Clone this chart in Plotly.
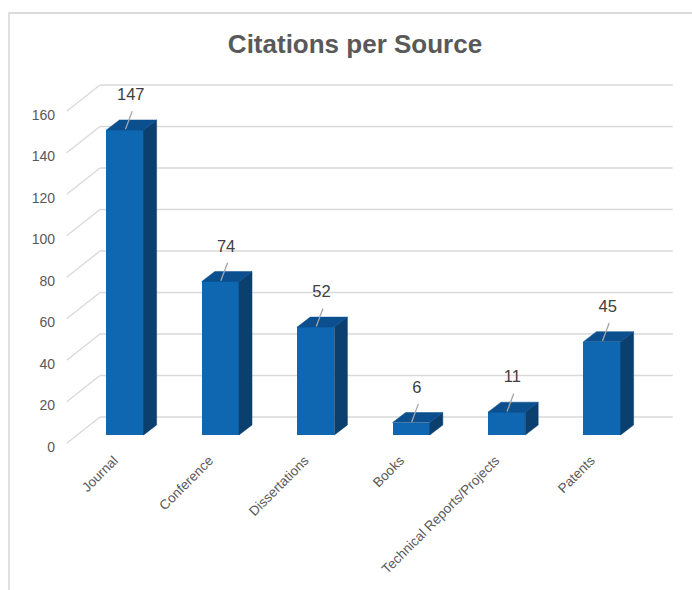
import plotly.graph_objects as go

# ---------------- data ----------------
categories = ["Journal", "Conference", "Dissertations", "Books",
              "Technical Reports/Projects", "Patents"]
citations = [147, 74, 52, 6, 11, 45]
y_ticks = [0, 20, 40, 60, 80, 100, 120, 140, 160]
title_text = "Citations per Source"

# ---------------- geometry (axis units) ----------------
W, H = 692, 590
PX_X = 95.4          # pixels per category step
PX_Y = 2.075         # pixels per value unit
X0_PX = 125          # pixel of first category centre
Y0_PX = 435          # pixel of value 0 on bar front plane
BAR_W = 0.39
DEPTH_DX = 13 / PX_X
DEPTH_DY = 10 / PX_Y
BACK_DY = 18 / PX_Y
FRONT_DY = 8.3 / PX_Y
LABEL_DY = 12.0 / PX_Y
BACK_X0 = (100 - X0_PX) / PX_X
BACK_X1 = (672.7 - X0_PX) / PX_X
FRONT_X = (66.7 - X0_PX) / PX_X

PLOT_TOP_PX, PLOT_BOT_PX = 70, 448
x_range = [-X0_PX / PX_X, (W - X0_PX) / PX_X]
y_range = [-(PLOT_BOT_PX - Y0_PX) / PX_Y, (Y0_PX - PLOT_TOP_PX) / PX_Y]

FRONT_COL = "#0F67B1"
TOP_COL = "#0B4F8E"
SIDE_COL = "#0B3F6E"
GRID_COL = "#D9D9D9"
TXT_COL = "#595959"
FONT = "Liberation Sans, Arial, sans-serif"

idx = list(range(len(categories)))

# side and top faces
side_x, side_y, top_x, top_y = [], [], [], []
for i, v in zip(idx, citations):
    xl, xr = i - BAR_W / 2, i + BAR_W / 2
    side_x += [xr, xr + DEPTH_DX, xr + DEPTH_DX, xr, xr, None]
    side_y += [0, DEPTH_DY, v + DEPTH_DY, v, 0, None]
    top_x += [xl, xr, xr + DEPTH_DX, xl + DEPTH_DX, xl, None]
    top_y += [v, v, v + DEPTH_DY, v + DEPTH_DY, v, None]

# leader lines and labels
lead_x, lead_y = [], []
for i, v in zip(idx, citations):
    lead_x += [i + 0.005, i + 0.075, None]
    lead_y += [v + 0.3, v + 9.0, None]

fig = go.Figure()
fig.add_trace(go.Bar(x=idx, y=citations, width=BAR_W,
                     marker=dict(color=FRONT_COL, line=dict(width=0)),
                     showlegend=False, hoverinfo="skip"))
fig.add_trace(go.Scatter(x=side_x, y=side_y, mode="lines", fill="toself",
                         fillcolor=SIDE_COL, line=dict(color=SIDE_COL, width=0.5),
                         showlegend=False, hoverinfo="skip"))
fig.add_trace(go.Scatter(x=top_x, y=top_y, mode="lines", fill="toself",
                         fillcolor=TOP_COL, line=dict(color=TOP_COL, width=0.5),
                         showlegend=False, hoverinfo="skip"))
fig.add_trace(go.Scatter(x=lead_x, y=lead_y, mode="lines",
                         line=dict(color="#A6A6A6", width=1.3),
                         showlegend=False, hoverinfo="skip"))
fig.add_trace(go.Scatter(x=[i + 0.06 for i in idx], y=[v + 16.3 for v in citations],
                         mode="text", text=[str(v) for v in citations],
                         textposition="middle center",
                         textfont=dict(size=16.5, color="#404040", family=FONT),
                         showlegend=False, hoverinfo="skip"))
# invisible trace carrying the tick-label axis
fig.add_trace(go.Scatter(x=[0], y=[0], yaxis="y2", mode="markers",
                         marker=dict(opacity=0), showlegend=False, hoverinfo="skip"))

# back-wall gridlines and diagonal connectors
for v in y_ticks:
    fig.add_shape(type="line", xref="x", yref="y", layer="below",
                  x0=BACK_X0, x1=BACK_X1, y0=v + BACK_DY, y1=v + BACK_DY,
                  line=dict(color=GRID_COL, width=1.3))
    fig.add_shape(type="line", xref="x", yref="y", layer="below",
                  x0=FRONT_X, x1=BACK_X0, y0=v - FRONT_DY, y1=v + BACK_DY,
                  line=dict(color=GRID_COL, width=1.3))

# chart border
fig.add_shape(type="rect", xref="paper", yref="paper",
              x0=9 / W, x1=1.05, y0=-0.05, y1=1 - 13 / H,
              line=dict(color="#D0D0D0", width=1.3), layer="below")

fig.update_layout(
    width=W, height=H,
    margin=dict(l=0, r=0, t=0, b=0, autoexpand=False),
    paper_bgcolor="white", plot_bgcolor="rgba(0,0,0,0)",
    title=dict(text=title_text, x=355 / W, xanchor="center",
               y=1 - 44 / H, yanchor="middle", automargin=False,
               font=dict(size=26, color=TXT_COL, family=FONT, weight="bold")),
    xaxis=dict(domain=[0, 1], range=x_range, tickvals=idx, ticktext=categories,
               tickangle=-45, showgrid=False, zeroline=False, showline=False,
               ticks="", ticklabelshift=-11, ticklabelstandoff=1, automargin=False,
               tickfont=dict(size=13.5, color=TXT_COL, family=FONT)),
    yaxis=dict(domain=[1 - PLOT_BOT_PX / H, 1 - PLOT_TOP_PX / H], range=y_range,
               visible=False, automargin=False),
    yaxis2=dict(overlaying="y", anchor="free", position=55 / W, side="left",
                range=[y_range[0] + LABEL_DY, y_range[1] + LABEL_DY],
                tickvals=y_ticks, showgrid=False, zeroline=False, showline=False,
                ticks="", automargin=False,
                tickfont=dict(size=14, color=TXT_COL, family=FONT)),
    bargap=0,
)

fig.write_html("out.html")
